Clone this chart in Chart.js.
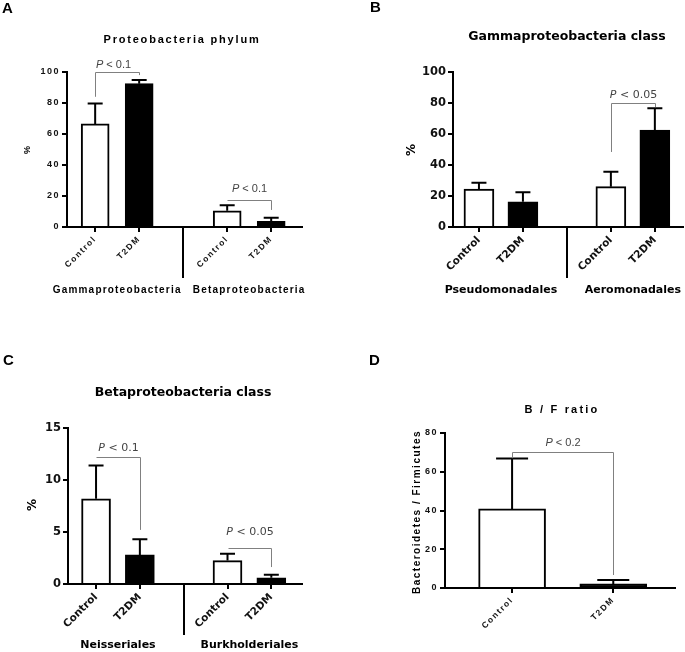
<!DOCTYPE html>
<html>
<head>
<meta charset="utf-8">
<script src="https://cdn.jsdelivr.net/npm/chart.js@4.4.1/dist/chart.umd.min.js"></script>
<style>
  body { margin: 0; background: #fff; }
  #page { position: relative; width: 685px; height: 652px; overflow: hidden; background: #fff; }
  #page canvas { position: absolute; left: 0; top: 0; }
</style>
</head>
<body>
<div id="page">
  <canvas id="chartA" width="685" height="652"></canvas>
  <canvas id="chartB" width="685" height="652"></canvas>
  <canvas id="chartC" width="685" height="652"></canvas>
  <canvas id="chartD" width="685" height="652"></canvas>
</div>
<script>
// 数据
const barLabels = ['Control', 'T2DM']

// A: Proteobacteria phylum
const groupsA = ['Gammaproteobacteria', 'Betaproteobacteria']
const controlA = [66.5, 10.5]
const controlSemA = [13.2, 3.6]
const t2dmA = [92.5, 3.7]
const t2dmSemA = [2.4, 2.2]
const yTicksA = [0, 20, 40, 60, 80, 100]
const pValuesA = ['< 0.1', '< 0.1']

// B: Gammaproteobacteria class
const groupsB = ['Pseudomonadales', 'Aeromonadales']
const controlB = [24.5, 26]
const controlSemB = [4, 9.7]
const t2dmB = [16.3, 62.6]
const t2dmSemB = [6.1, 14]
const yTicksB = [0, 20, 40, 60, 80, 100]
const pValuesB = ['< 0.05']

// C: Betaproteobacteria class
const groupsC = ['Neisseriales', 'Burkholderiales']
const controlC = [8.2, 2.25]
const controlSemC = [3.2, 0.65]
const t2dmC = [2.8, 0.6]
const t2dmSemC = [1.5, 0.3]
const yTicksC = [0, 5, 10, 15]
const pValuesC = ['< 0.1', '< 0.05']

// D: B / F ratio
const groupsD = []
const controlD = [40.8]
const controlSemD = [26.1]
const t2dmD = [2.1]
const t2dmSemD = [2]
const yTicksD = [0, 20, 40, 60, 80]
const pValuesD = ['< 0.2']

const W = 685
const H = 652
const ARIAL = '"Liberation Sans", Arial, sans-serif'
const DEJAVU = '"DejaVu Sans", sans-serif'

// 工具函数
const utils = {
  font: (f, weight, size, style) => `${style || 'normal'} ${weight} ${size}px ${f}`,
  text: (ctx, str, x, y, font, spacing, align, angle) => {
    ctx.save()
    ctx.font = font
    ctx.letterSpacing = (spacing || 0) + 'px'
    ctx.textAlign = align || 'center'
    ctx.textBaseline = 'middle'
    ctx.translate(x, y)
    if (angle) ctx.rotate(angle)
    ctx.fillText(str, 0, 0)
    ctx.restore()
  }
}

function makeDecor(p) {
  const setSpacing = chart => { chart.ctx.letterSpacing = p.tickSpacing + 'px' }
  return {
    id: 'decor',
    beforeUpdate: setSpacing,
    beforeDraw: setSpacing,
    afterDatasetsDraw(chart) {
      const ctx = chart.ctx
      const y = chart.scales.y
      ctx.save()
      ctx.strokeStyle = '#000'
      ctx.lineWidth = 2
      chart.data.datasets.forEach((ds, di) => {
        chart.getDatasetMeta(di).data.forEach((bar, i) => {
          const top = y.getPixelForValue(ds.data[i].y + ds.sem[i])
          ctx.beginPath()
          ctx.moveTo(bar.x, bar.y)
          ctx.lineTo(bar.x, top)
          ctx.moveTo(bar.x - p.cap / 2, top)
          ctx.lineTo(bar.x + p.cap / 2, top)
          ctx.stroke()
        })
      })
      ctx.restore()
    },
    afterDraw(chart) {
      const ctx = chart.ctx
      const x = chart.scales.x
      const y = chart.scales.y
      const area = chart.chartArea
      ctx.save()
      ctx.fillStyle = '#000'

      // 面板字母和标题
      utils.text(ctx, p.letter, p.letterPos[0], p.letterPos[1], utils.font(ARIAL, 'bold', 15), 0, 'left')
      utils.text(ctx, p.title, p.titlePos[0], p.titlePos[1], utils.font(p.family, 'bold', p.titleSize), p.titleSpacing)
      utils.text(ctx, p.yTitle, p.yTitlePos[0], p.yTitlePos[1], utils.font(p.family, 'bold', p.yTitleSize), p.yTitleSpacing, 'center', -Math.PI / 2)

      // 分组标签和分隔线
      p.groups.forEach((g, gi) => {
        const cx = (x.getPixelForValue(gi * 3 + 1) + x.getPixelForValue(gi * 3 + 2)) / 2
        utils.text(ctx, g, cx, p.groupY, utils.font(p.family, 'bold', p.groupSize), p.groupSpacing)
      })
      if (p.groups.length > 1) {
        const sx = Math.round(x.getPixelForValue(3))
        ctx.strokeStyle = '#000'
        ctx.lineWidth = 2
        ctx.beginPath()
        ctx.moveTo(sx, area.bottom)
        ctx.lineTo(sx, p.sepBottom)
        ctx.stroke()
      }

      // 显著性括号
      ctx.strokeStyle = '#808080'
      ctx.lineWidth = 1
      p.brackets.forEach(b => {
        const x1 = Math.round(x.getPixelForValue(b.x1)) + 0.5
        const x2 = Math.round(x.getPixelForValue(b.x2)) + 0.5
        const py = Math.round(y.getPixelForValue(b.y)) + 0.5
        ctx.beginPath()
        if (b.y1 != null) {
          ctx.moveTo(x1, y.getPixelForValue(b.y1))
          ctx.lineTo(x1, py)
        } else {
          ctx.moveTo(x1, py)
        }
        ctx.lineTo(x2, py)
        ctx.lineTo(x2, y.getPixelForValue(b.y2))
        ctx.stroke()

        const italic = utils.font(p.family, 'normal', p.pSize, 'italic')
        const normal = utils.font(p.family, 'normal', p.pSize)
        ctx.letterSpacing = '0px'
        ctx.font = italic
        const w1 = ctx.measureText('P').width
        ctx.font = normal
        const rest = ' ' + b.text
        const w2 = ctx.measureText(rest).width
        const cx = (x1 + x2) / 2 + (b.dx || 0)
        const ty = y.getPixelForValue(b.textY)
        ctx.fillStyle = '#444'
        ctx.textBaseline = 'middle'
        ctx.textAlign = 'left'
        ctx.font = italic
        ctx.fillText('P', cx - (w1 + w2) / 2, ty)
        ctx.font = normal
        ctx.fillText(rest, cx - (w1 + w2) / 2 + w1, ty)
      })
      ctx.restore()
    }
  }
}

function buildPanel(p) {
  const xPos = []
  const xLabels = []
  p.control.forEach((v, g) => {
    barLabels.forEach((b, bi) => {
      xPos.push(g * 3 + bi + 1)
      xLabels.push(b)
    })
  })
  const tickFont = size => ({ family: p.family, size, weight: 'bold' })

  return new Chart(document.getElementById(p.id).getContext('2d'), {
    type: 'bar',
    data: {
      datasets: [
        {
          label: barLabels[0],
          data: p.control.map((v, g) => ({ x: g * 3 + 1, y: v })),
          sem: p.controlSem,
          backgroundColor: '#fff',
          borderColor: '#000',
          borderWidth: 2,
          barThickness: p.barWidth,
          grouped: false
        },
        {
          label: barLabels[1],
          data: p.t2dm.map((v, g) => ({ x: g * 3 + 2, y: v })),
          sem: p.t2dmSem,
          backgroundColor: '#000',
          borderColor: '#000',
          borderWidth: 2,
          barThickness: p.barWidth,
          grouped: false
        }
      ]
    },
    options: {
      responsive: false,
      animation: false,
      events: [],
      layout: { padding: { left: 0, top: p.area.top, right: W - p.area.right, bottom: 0 } },
      plugins: { legend: { display: false }, tooltip: { enabled: false }, title: { display: false } },
      scales: {
        x: {
          type: 'linear',
          min: p.xMin,
          max: p.xMax,
          offset: false,
          afterBuildTicks: s => { s.ticks = xPos.map(v => ({ value: v })) },
          afterFit: s => { s.height = H - p.area.bottom },
          ticks: {
            autoSkip: false,
            minRotation: 45,
            maxRotation: 45,
            padding: 2,
            color: '#111',
            font: tickFont(p.xTickSize),
            callback: (v, i) => xLabels[i]
          },
          grid: { offset: false, drawOnChartArea: false, drawTicks: true, tickLength: 5, color: '#000', lineWidth: 2 },
          border: { display: true, color: '#000', width: 2 }
        },
        y: {
          min: p.yTicks[0],
          max: p.yTicks[p.yTicks.length - 1],
          afterBuildTicks: s => { s.ticks = p.yTicks.map(v => ({ value: v })) },
          afterFit: s => { s.width = p.area.left },
          ticks: { padding: 2, color: '#111', font: tickFont(p.yTickSize) },
          grid: { drawOnChartArea: false, drawTicks: true, tickLength: 5, color: '#000', lineWidth: 2 },
          border: { display: true, color: '#000', width: 2 }
        }
      }
    },
    plugins: [makeDecor(p)]
  })
}

buildPanel({
  id: 'chartA', letter: 'A', letterPos: [2, 9],
  title: 'Proteobacteria phylum', titlePos: [182, 40],
  area: { left: 67, top: 72, right: 302, bottom: 227 }, xMin: 0.36, xMax: 5.7,
  groups: groupsA, control: controlA, controlSem: controlSemA, t2dm: t2dmA, t2dmSem: t2dmSemA, yTicks: yTicksA,
  barWidth: 28, cap: 15, yTitle: '%', yTitlePos: [28, 150], groupY: 290, sepBottom: 278,
  family: ARIAL, tickSpacing: 1.5, titleSize: 11, titleSpacing: 1.8, xTickSize: 8.5, yTickSize: 9,
  groupSize: 10, groupSpacing: 1.2, yTitleSize: 9, yTitleSpacing: 0, pSize: 11,
  brackets: [
    { x1: 1, x2: 2, y: 100, y1: 84, y2: 98, textY: 104.5, text: pValuesA[0], dx: -4 },
    { x1: 4, x2: 5, y: 17.4, y1: null, y2: 11, textY: 24.5, text: pValuesA[1] }
  ]
})

buildPanel({
  id: 'chartB', letter: 'B', letterPos: [370, 8],
  title: 'Gammaproteobacteria class', titlePos: [567, 37],
  area: { left: 453, top: 72, right: 683, bottom: 227 }, xMin: 0.41, xMax: 5.64,
  groups: groupsB, control: controlB, controlSem: controlSemB, t2dm: t2dmB, t2dmSem: t2dmSemB, yTicks: yTicksB,
  barWidth: 30, cap: 15, yTitle: '%', yTitlePos: [412, 150], groupY: 290, sepBottom: 278,
  family: DEJAVU, tickSpacing: 0, titleSize: 12.5, titleSpacing: 0, xTickSize: 10.5, yTickSize: 11.5,
  groupSize: 11, groupSpacing: 0, yTitleSize: 12, yTitleSpacing: 0, pSize: 11,
  brackets: [
    { x1: 4, x2: 5, y: 80, y1: 48.4, y2: 77.4, textY: 85.2, text: pValuesB[0] }
  ]
})

buildPanel({
  id: 'chartC', letter: 'C', letterPos: [3, 361],
  title: 'Betaproteobacteria class', titlePos: [183, 393],
  area: { left: 68, top: 428, right: 302, bottom: 584 }, xMin: 0.36, xMax: 5.7,
  groups: groupsC, control: controlC, controlSem: controlSemC, t2dm: t2dmC, t2dmSem: t2dmSemC, yTicks: yTicksC,
  barWidth: 29, cap: 15, yTitle: '%', yTitlePos: [33, 505], groupY: 645, sepBottom: 635,
  family: DEJAVU, tickSpacing: 0, titleSize: 12.5, titleSpacing: 0, xTickSize: 10.5, yTickSize: 11.5,
  groupSize: 11, groupSpacing: 0, yTitleSize: 12, yTitleSpacing: 0, pSize: 11,
  brackets: [
    { x1: 1, x2: 2, y: 12.2, y1: null, y2: 5.2, textY: 13.1, text: pValuesC[0] },
    { x1: 4, x2: 5, y: 3.5, y1: null, y2: 1.63, textY: 5.0, text: pValuesC[1] }
  ]
})

buildPanel({
  id: 'chartD', letter: 'D', letterPos: [369, 361],
  title: 'B / F ratio', titlePos: [562, 410],
  area: { left: 445, top: 433, right: 675, bottom: 588 }, xMin: 0.337, xMax: 2.61,
  groups: groupsD, control: controlD, controlSem: controlSemD, t2dm: t2dmD, t2dmSem: t2dmSemD, yTicks: yTicksD,
  barWidth: 67, cap: 32, yTitle: 'Bacteroidetes / Firmicutes', yTitlePos: [417, 512], groupY: 0, sepBottom: 0,
  family: ARIAL, tickSpacing: 1.5, titleSize: 11, titleSpacing: 2.2, xTickSize: 8.5, yTickSize: 9,
  groupSize: 10, groupSpacing: 1.2, yTitleSize: 10, yTitleSpacing: 1.5, pSize: 11,
  brackets: [
    { x1: 1, x2: 2, y: 70.4, y1: 67, y2: 6.7, textY: 74.8, text: pValuesD[0] }
  ]
})
</script>
</body>
</html>
